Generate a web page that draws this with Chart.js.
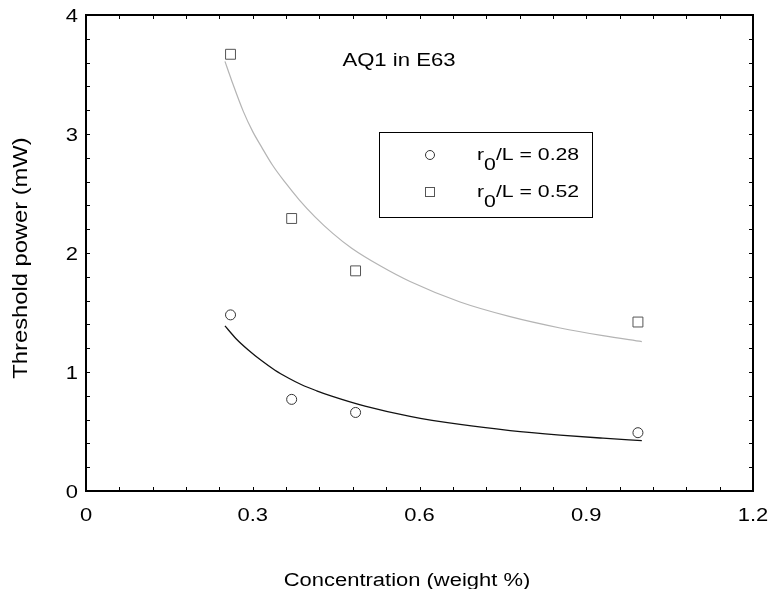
<!DOCTYPE html>
<html>
<head>
<meta charset="utf-8">
<script src="https://cdn.jsdelivr.net/npm/chart.js@4"></script>
<style>
  body { margin: 0; background: #fff; overflow: hidden; }
  #wrap { width: 769px; height: 589px; position: relative; }
  canvas { display: block; }
</style>
</head>
<body>
<div id="wrap"><canvas id="chart"></canvas></div>
<script>
// measured points
var concentracao = [0.26, 0.37, 0.485, 0.993];
var potencia028 = [1.48, 0.77, 0.66, 0.49];
var potencia052 = [3.67, 2.29, 1.85, 1.42];

// fitted curves
var ajusteX028 = [0.25, 0.27, 0.292, 0.315, 0.34, 0.364, 0.388, 0.415, 0.442, 0.502, 0.583, 0.673, 0.763, 0.853, 0.93, 1.0];
var ajusteY028 = [1.387, 1.28, 1.185, 1.098, 1.015, 0.95, 0.893, 0.842, 0.797, 0.713, 0.627, 0.559, 0.508, 0.47, 0.444, 0.423];
var ajusteX052 = [0.25, 0.262, 0.283, 0.3, 0.316, 0.336, 0.358, 0.384, 0.412, 0.444, 0.478, 0.53, 0.583, 0.673, 0.763, 0.853, 0.93, 1.0];
var ajusteY052 = [3.61, 3.45, 3.19, 3.02, 2.89, 2.735, 2.595, 2.445, 2.304, 2.165, 2.04, 1.89, 1.76, 1.588, 1.465, 1.37, 1.305, 1.255];

var xTicks = [0, 0.3, 0.6, 0.9, 1.2];
var yTicks = [0, 1, 2, 3, 4];

var fonte = '"Liberation Sans", Arial, sans-serif';

function pares(xs, ys) {
    return xs.map(function (x, i) { return { x: x, y: ys[i] }; });
}

// texto esticado na horizontal
function texto(ctx, s, x, y, align, sx) {
    ctx.save();
    ctx.translate(x, y);
    ctx.scale(sx, 1);
    ctx.textAlign = align;
    ctx.fillText(s, 0, 0);
    ctx.restore();
}

// moldura, ticks para dentro, rotulos, legenda e titulos
var moldura = {
    id: 'moldura',
    afterDraw: function (chart) {
        var ctx = chart.ctx;
        var a = chart.chartArea;
        var sx = chart.scales.x, sy = chart.scales.y;
        ctx.save();
        ctx.strokeStyle = '#000';
        ctx.lineWidth = 2;
        ctx.strokeRect(a.left, a.top, a.right - a.left, a.bottom - a.top);

        ctx.lineWidth = 1;
        ctx.beginPath();
        for (var v = 0; v <= 1.2001; v += 0.06) {
            var px = Math.round(sx.getPixelForValue(v)) + 0.5;
            ctx.moveTo(px, a.bottom); ctx.lineTo(px, a.bottom - 4);
            ctx.moveTo(px, a.top); ctx.lineTo(px, a.top + 4);
        }
        for (var w = 0; w <= 4.001; w += 0.2) {
            var py = Math.round(sy.getPixelForValue(w)) + 0.5;
            ctx.moveTo(a.left, py); ctx.lineTo(a.left + 4, py);
            ctx.moveTo(a.right, py); ctx.lineTo(a.right - 4, py);
        }
        ctx.stroke();

        ctx.fillStyle = '#000';
        ctx.textBaseline = 'alphabetic';
        ctx.font = '18px ' + fonte;

        // rotulos dos ticks
        sx.ticks.forEach(function (t, i) {
            texto(ctx, String(xTicks[i]), sx.getPixelForValue(t.value), 521, 'center', 1.22);
        });
        sy.ticks.forEach(function (t, i) {
            texto(ctx, String(yTicks[i]), 78, sy.getPixelForValue(t.value) + 6.5, 'right', 1.22);
        });

        texto(ctx, 'AQ1 in E63', 399, 66, 'center', 1.23);

        // legenda
        ctx.strokeStyle = '#000';
        ctx.lineWidth = 1;
        ctx.strokeRect(379.5, 132.5, 213, 85);

        ctx.strokeStyle = '#333';
        ctx.beginPath();
        ctx.arc(430, 155, 4.5, 0, Math.PI * 2);
        ctx.stroke();
        ctx.strokeStyle = '#555';
        ctx.strokeRect(425.5, 187.5, 9, 9);

        var legendas = ['0.28', '0.52'];
        var bases = [160, 197];
        var esc = 1.25;
        ctx.font = '17px ' + fonte;
        for (var i = 0; i < 2; i++) {
            var x0 = 477;
            var wr = ctx.measureText('r').width * esc;
            var w0 = ctx.measureText('0').width * esc;
            texto(ctx, 'r', x0, bases[i], 'left', esc);
            texto(ctx, '0', x0 + wr, bases[i] + 10, 'left', esc);
            texto(ctx, '/L = ' + legendas[i], x0 + wr + w0, bases[i], 'left', esc);
        }

        // titulos dos eixos
        ctx.font = '18px ' + fonte;
        texto(ctx, 'Concentration (weight %)', 407, 586, 'center', 1.22);
        ctx.font = '21px ' + fonte;
        ctx.translate(27, 258);
        ctx.rotate(-Math.PI / 2);
        texto(ctx, 'Threshold power (mW)', 0, 0, 'center', 1.13);
        ctx.restore();
    }
};

function semPadding(s) {
    s.paddingLeft = 0; s.paddingRight = 0; s.paddingTop = 0; s.paddingBottom = 0;
}

new Chart(document.getElementById('chart').getContext('2d'), {
    type: 'scatter',
    data: {
        datasets: [
            {
                data: pares(ajusteX028, ajusteY028),
                showLine: true,
                borderColor: '#111',
                borderWidth: 1.3,
                pointRadius: 0,
                cubicInterpolationMode: 'monotone',
                fill: false
            },
            {
                data: pares(ajusteX052, ajusteY052),
                showLine: true,
                borderColor: '#b4b4b4',
                borderWidth: 1.2,
                pointRadius: 0,
                cubicInterpolationMode: 'monotone',
                fill: false
            },
            {
                data: pares(concentracao, potencia028),
                pointStyle: 'circle',
                pointRadius: 5,
                pointBorderColor: '#333',
                pointBackgroundColor: 'rgba(0,0,0,0)',
                pointBorderWidth: 1
            },
            {
                data: pares(concentracao, potencia052),
                pointStyle: 'rect',
                pointRadius: 7,
                pointBorderColor: '#555',
                pointBackgroundColor: 'rgba(0,0,0,0)',
                pointBorderWidth: 1
            }
        ]
    },
    options: {
        responsive: true,
        maintainAspectRatio: false,
        animation: false,
        layout: { padding: { top: 15, right: 16, left: 0, bottom: 0 } },
        plugins: { legend: { display: false }, tooltip: { enabled: false } },
        scales: {
            x: {
                type: 'linear',
                min: 0,
                max: 1.2,
                afterBuildTicks: function (s) { s.ticks = xTicks.map(function (v) { return { value: v }; }); },
                ticks: { display: false },
                grid: { display: false, drawTicks: false },
                border: { display: false },
                afterFit: function (s) { s.height = 98; semPadding(s); }
            },
            y: {
                type: 'linear',
                min: 0,
                max: 4,
                afterBuildTicks: function (s) { s.ticks = yTicks.map(function (v) { return { value: v }; }); },
                ticks: { display: false },
                grid: { display: false, drawTicks: false },
                border: { display: false },
                afterFit: function (s) { s.width = 86; semPadding(s); }
            }
        }
    },
    plugins: [moldura]
});
</script>
</body>
</html>
